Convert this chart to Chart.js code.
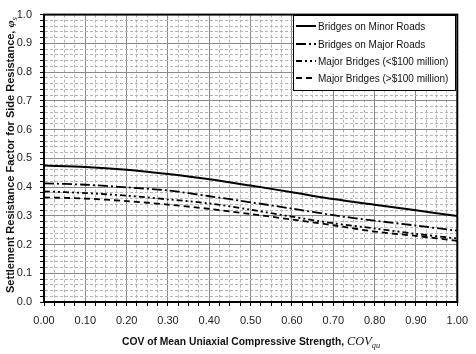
<!DOCTYPE html>
<html>
<head>
<meta charset="utf-8">
<script src="https://cdn.jsdelivr.net/npm/chart.js@4/dist/chart.umd.min.js"></script>
<style>
  html, body { margin: 0; padding: 0; background: #fff; }
  #wrap { width: 476px; height: 354px; }
</style>
</head>
<body>
<div id="wrap"><canvas id="resistChart" width="476" height="354"></canvas></div>
<script>
// COV of q_u (x axis)
const covValues = [0.0, 0.1, 0.2, 0.3, 0.4, 0.5, 0.6, 0.7, 0.8, 0.9, 1.0];

// settlement resistance factor
const minorRoads = [0.475, 0.470, 0.460, 0.445, 0.427, 0.405, 0.382, 0.358, 0.338, 0.319, 0.299];
const majorRoads = [0.413, 0.408, 0.399, 0.388, 0.368, 0.347, 0.325, 0.302, 0.283, 0.266, 0.248];
const majorUnder100 = [0.385, 0.379, 0.370, 0.357, 0.343, 0.321, 0.297, 0.274, 0.256, 0.237, 0.221];
const majorOver100 = [0.364, 0.360, 0.351, 0.339, 0.324, 0.306, 0.287, 0.267, 0.245, 0.230, 0.213];

const seriesNames = [
  'Bridges on Minor Roads',
  'Bridges on Major Roads',
  'Major Bridges (<$100 million)',
  'Major Bridges (>$100 million)'
];

const xTitle = 'COV of Mean Uniaxial Compressive Strength, ';
const xTitleSym = 'COV';
const xTitleSub = 'qu';
const yTitle = 'Settlement Resistance Factor for Side Resistance, ';
const yTitleSym = 'φ';
const yTitleSub = 's';

const SANS = "Arial, 'Liberation Sans', sans-serif";
const SERIF = "'Times New Roman', 'Liberation Serif', serif";

function isMajor(v) {
  return Math.abs(v * 10 - Math.round(v * 10)) < 1e-6;
}

function toPoints(arr) {
  return covValues.map((x, i) => ({ x: x, y: arr[i] }));
}

const dashes = [[], [10, 3, 2, 3], [6, 3, 2, 3, 2, 3], [6, 4]];
const allSeries = [minorRoads, majorRoads, majorUnder100, majorOver100];

const datasets = allSeries.map((arr, i) => ({
  label: seriesNames[i],
  data: toPoints(arr),
  borderColor: '#000',
  borderWidth: i === 0 ? 2 : 1.8,
  borderDash: dashes[i],
  pointRadius: 0,
  tension: 0.3,
  fill: false
}));

function gridColor(ctx) {
  if (!ctx.tick) return '#999';
  return isMajor(ctx.tick.value) ? '#8a8a8a' : '#b4b4b4';
}
function gridDash(ctx) {
  if (!ctx.tick) return [];
  return isMajor(ctx.tick.value) ? [] : [3, 2];
}

// draw a label made of a plain part, an italic symbol and a subscript, squeezed to a width
function drawMixedLabel(ctx, parts, targetWidth) {
  let total = 0;
  parts.forEach(p => { ctx.font = p.font; p.w = ctx.measureText(p.text).width; total += p.w; });
  const s = targetWidth / total;
  ctx.save();
  ctx.scale(s, 1);
  let x = -total / 2;
  parts.forEach(p => {
    ctx.font = p.font;
    ctx.fillText(p.text, x, p.dy || 0);
    x += p.w;
  });
  ctx.restore();
}

const axisTitles = {
  id: 'axisTitles',
  afterDraw(chart) {
    const ctx = chart.ctx;
    ctx.save();
    ctx.fillStyle = '#111';
    ctx.textAlign = 'left';
    ctx.textBaseline = 'alphabetic';

    ctx.save();
    ctx.translate(251, 345);
    drawMixedLabel(ctx, [
      { text: xTitle, font: 'bold 10px ' + SANS },
      { text: xTitleSym, font: 'italic 12px ' + SERIF },
      { text: xTitleSub, font: 'italic 8px ' + SERIF, dy: 3 }
    ], 258);
    ctx.restore();

    ctx.save();
    ctx.translate(14, 155);
    ctx.rotate(-Math.PI / 2);
    drawMixedLabel(ctx, [
      { text: yTitle, font: 'bold 10px ' + SANS },
      { text: yTitleSym, font: 'italic bold 11px ' + SERIF },
      { text: yTitleSub, font: 'italic 8px ' + SERIF, dy: 3 }
    ], 276);
    ctx.restore();

    ctx.restore();
  }
};

const frameAndLegend = {
  id: 'frameAndLegend',
  afterDatasetsDraw(chart) {
    const ctx = chart.ctx;
    const a = chart.chartArea;
    ctx.save();
    ctx.strokeStyle = '#000';
    ctx.lineWidth = 2;
    ctx.strokeRect(a.left, a.top, a.right - a.left, a.bottom - a.top);

    // legend box
    const bx = 293, by = 15, bw = 162, bh = 75;
    ctx.fillStyle = '#fff';
    ctx.fillRect(bx, by, bw, bh);
    ctx.lineWidth = 1;
    ctx.strokeRect(bx + 0.5, by + 0.5, bw, bh);

    const rows = [26, 44, 61, 78];
    ctx.font = '10px ' + SANS;
    ctx.textBaseline = 'middle';
    ctx.textAlign = 'left';
    chart.data.datasets.forEach((ds, i) => {
      const y = rows[i];
      ctx.beginPath();
      ctx.setLineDash(ds.borderDash || []);
      ctx.lineWidth = ds.borderWidth;
      ctx.strokeStyle = '#000';
      ctx.moveTo(296, y);
      ctx.lineTo(316, y);
      ctx.stroke();
      ctx.setLineDash([]);
      ctx.fillStyle = '#111';
      ctx.fillText(ds.label, 318, y + 1);
    });
    ctx.restore();
  }
};

const ctx = document.getElementById('resistChart').getContext('2d');
new Chart(ctx, {
  type: 'line',
  data: { datasets: datasets },
  options: {
    responsive: false,
    animation: false,
    layout: { padding: { top: 13, right: 17, left: 0, bottom: 0 } },
    plugins: {
      legend: { display: false },
      tooltip: { enabled: false }
    },
    scales: {
      x: {
        type: 'linear',
        min: 0,
        max: 1,
        afterFit: (scale) => { scale.height = 52; },
        ticks: {
          stepSize: 0.025,
          autoSkip: false,
          maxRotation: 0,
          padding: 8,
          color: '#222',
          font: { family: SANS, size: 11 },
          callback: (v) => isMajor(v) ? v.toFixed(2) : ''
        },
        grid: {
          color: gridColor,
          lineWidth: 1,
          tickColor: '#000',
          tickLength: 4,
          tickWidth: 1
        },
        border: { display: true, color: '#000', width: 2, dash: gridDash }
      },
      y: {
        min: 0,
        max: 1,
        afterFit: (scale) => { scale.width = 44; },
        ticks: {
          stepSize: 0.02,
          autoSkip: false,
          padding: 8,
          color: '#222',
          font: { family: SANS, size: 11 },
          callback: (v) => isMajor(v) ? v.toFixed(1) : ''
        },
        grid: {
          color: gridColor,
          lineWidth: 1,
          tickColor: '#000',
          tickLength: 4,
          tickWidth: 1
        },
        border: { display: true, color: '#000', width: 2, dash: gridDash }
      }
    }
  },
  plugins: [frameAndLegend, axisTitles]
});
</script>
</body>
</html>
